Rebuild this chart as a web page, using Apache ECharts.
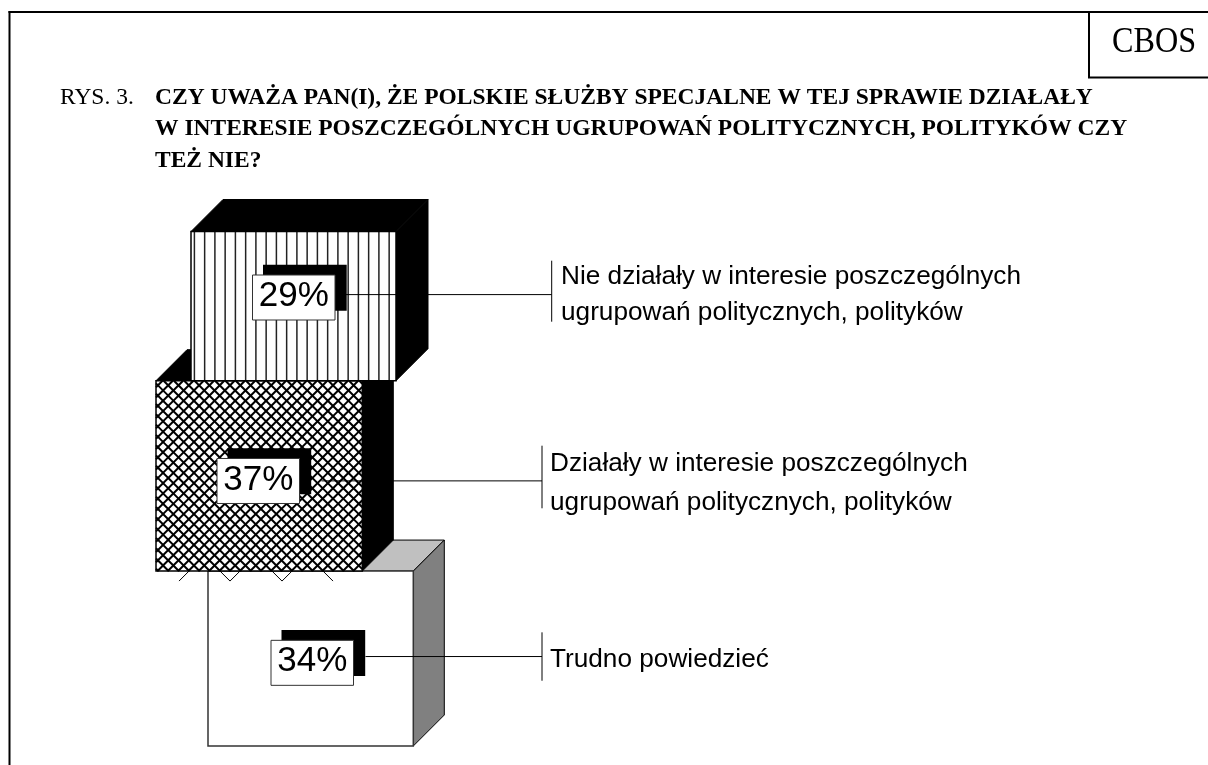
<!DOCTYPE html>
<html>
<head>
<meta charset="utf-8">
<style>html,body{margin:0;padding:0;background:#fff}#chart{width:1208px;height:765px}</style>
<script src="https://cdn.jsdelivr.net/npm/echarts@6/dist/echarts.min.js"></script>
</head>
<body>
<div id="chart"></div>
<script>
// ---- data, bottom of the stack first ----
const categories = [
  ['Trudno powiedzieć'],
  ['Działały w interesie poszczególnych', 'ugrupowań politycznych, polityków'],
  ['Nie działały w interesie poszczególnych', 'ugrupowań politycznych, polityków']
];
const values = [34, 37, 29];
const figureLabel = 'RYS. 3.';
const questionLines = [
  'CZY UWAŻA PAN(I), ŻE POLSKIE SŁUŻBY SPECJALNE W TEJ SPRAWIE DZIAŁAŁY',
  'W INTERESIE POSZCZEGÓLNYCH UGRUPOWAŃ POLITYCZNYCH, POLITYKÓW CZY',
  'TEŻ NIE?'
];
const sourceLabel = 'CBOS';

// ---- layout (x axis runs in page pixels, y axis in percent) ----
const layout = [
  {left: 208, width: 205.3, depth: 31, fill: 'plain',   topFill: '#c0c0c0', sideFill: '#808080',
   boxLeft: 271, labelDy: -2, boxDy: 6.3, leaderGap: 1, stemX: 542, stemUp: 24.2, stemDown: 24.2, textX: 550, lineDy: [2.4]},
  {left: 156, width: 206.3, depth: 31, fill: 'hatch',   topFill: '#000', sideFill: '#000',
   boxLeft: 217, labelDy: 5, boxDy: 0.1, leaderGap: 11, stemX: 542, stemUp: 35.2, stemDown: 27.4, textX: 550, lineDy: [-17.7, 20.7]},
  {left: 191, width: 205, depth: 32, fill: 'stripes', topFill: '#000', sideFill: '#000',
   boxLeft: 252.5, labelDy: -11.5, boxDy: 2.9, leaderGap: 0, stemX: 551.7, stemUp: 33.9, stemDown: 27.1, textX: 561, lineDy: [-18.6, 16.8]}
];
const SANS = '"Liberation Sans", Arial, sans-serif';
const SERIF = '"Liberation Serif", "Times New Roman", serif';
const INK = '#000';

function seg(x1, y1, x2, y2, width, color) {
  return {type: 'line', silent: true,
    shape: {x1, y1, x2, y2},
    style: {stroke: color || INK, lineWidth: width || 1}};
}
function poly(points, fill, stroke) {
  return {type: 'polygon', silent: true, shape: {points},
    style: {fill, stroke: stroke || INK, lineWidth: 1}};
}

// hatch lines of slope +1 / -1, clipped to the front face
function hatchLines(l, t, r, b) {
  const out = [], period = 10.3, w = 2;
  for (let c = -351 - period * 60; c < -351 + period * 60; c += period) {
    const x1 = Math.max(l, t + c), x2 = Math.min(r, b + c);
    if (x2 > x1) out.push(seg(x1, x1 - c, x2, x2 - c, w));
  }
  for (let c = 811 - period * 60; c < 811 + period * 60; c += period) {
    const x1 = Math.max(l, c - b), x2 = Math.min(r, c - t);
    if (x2 > x1) out.push(seg(x1, c - x1, x2, c - x2, w));
  }
  // fringe that spills below the face
  [[179, 189, -1], [220, 230, 1], [230, 240, -1], [272, 282, 1], [282, 292, -1], [323, 333, 1]].forEach(f => {
    const y0 = b, y1 = b + 10;
    if (f[2] === 1) out.push(seg(f[0], y0, f[1], y1, 1));
    else out.push(seg(f[0], y1, f[1], y0, 1));
  });
  return out;
}
function stripeLines(l, t, r, b) {
  const out = [];
  for (let x = l + 3.4; x < r - 3; x += 10.25) out.push(seg(x, t, x, b, 1.5, '#222'));
  return out;
}

function renderBlock(params, api) {
  const i = params.dataIndex, cfg = layout[i];
  const bottom = api.coord([0, api.value(0)])[1];
  const top = api.coord([0, api.value(1)])[1];
  const l = api.coord([cfg.left, 0])[0];
  const r = api.coord([cfg.left + cfg.width, 0])[0];
  const d = cfg.depth, kids = [];

  kids.push(poly([[l, top], [l + d, top - d], [r + d, top - d], [r, top]], cfg.topFill));
  kids.push(poly([[r, top], [r + d, top - d], [r + d, bottom - d], [r, bottom]], cfg.sideFill));
  kids.push({type: 'rect', silent: true, shape: {x: l, y: top, width: r - l, height: bottom - top},
    style: {fill: '#fff', stroke: 'none'}});
  if (cfg.fill === 'hatch') kids.push(...hatchLines(l, top, r, bottom));
  if (cfg.fill === 'stripes') kids.push(...stripeLines(l, top, r, bottom));
  kids.push({type: 'rect', silent: true, shape: {x: l, y: top, width: r - l, height: bottom - top},
    style: {fill: 'none', stroke: cfg.fill === 'plain' ? '#333' : INK, lineWidth: 1.5}});

  const cy = (top + bottom) / 2 + cfg.labelDy;
  const boxW = 82.5, boxH = 45;
  const bx = cfg.boxLeft, by = cy + cfg.boxDy - boxH / 2;
  // leader and stem
  kids.push(seg(bx + boxW + cfg.leaderGap + 11, cy, cfg.stemX, cy, 1));
  kids.push(seg(cfg.stemX, cy - cfg.stemUp, cfg.stemX, cy + cfg.stemDown, 1));
  // shadow, box, value
  kids.push({type: 'rect', silent: true, shape: {x: bx + 10.5, y: by - 10.3, width: boxW + 1.2, height: boxH + 1},
    style: {fill: '#000', stroke: 'none'}});
  kids.push({type: 'rect', silent: true, shape: {x: bx, y: by, width: boxW, height: boxH},
    style: {fill: '#fff', stroke: '#333', lineWidth: 1}});
  kids.push({type: 'text', silent: true, style: {
    text: values[i] + '%', x: bx + boxW / 2, y: by + boxH / 2 - 1, align: 'center', verticalAlign: 'middle',
    font: '35px ' + SANS, fill: '#000'}});
  // category text
  categories[i].forEach((line, k) => kids.push({type: 'text', silent: true, style: {
    text: line, x: cfg.textX, y: cy + cfg.lineDy[k] + 1, align: 'left', verticalAlign: 'middle',
    font: '26.2px ' + SANS, fill: '#000'}}));
  return {type: 'group', children: kids};
}

// cumulative start / end of every block
let running = 0;
const stackData = values.map(v => { const s = running; running += v; return [s, running]; });

const titleGraphics = [
  {type: 'text', silent: true, style: {text: figureLabel, x: 60, y: 97.5, verticalAlign: 'middle', font: '23.5px ' + SERIF, fill: '#000'}}
].concat(questionLines.map((t, k) => ({type: 'text', silent: true, style: {
  text: t, x: 155, y: 97.5 + k * 31.7, verticalAlign: 'middle', font: 'bold 23.5px ' + SERIF, fill: '#000'}})));

const chart = echarts.init(document.getElementById('chart'), null, {renderer: 'canvas'});
chart.setOption({
  animation: false,
  backgroundColor: '#fff',
  grid: {left: 0, right: 0, top: 231.5, bottom: 19},
  xAxis: {type: 'value', min: 0, max: 1208, show: false},
  yAxis: {type: 'value', min: 0, max: 100, show: false},
  graphic: [
    {type: 'line', silent: true, shape: {x1: 8.5, y1: 12, x2: 1208, y2: 12}, style: {stroke: '#000', lineWidth: 2}},
    {type: 'line', silent: true, shape: {x1: 9.5, y1: 11, x2: 9.5, y2: 765}, style: {stroke: '#000', lineWidth: 2}},
    {type: 'line', silent: true, shape: {x1: 1089, y1: 12, x2: 1089, y2: 78}, style: {stroke: '#000', lineWidth: 2}},
    {type: 'line', silent: true, shape: {x1: 1088, y1: 77.5, x2: 1208, y2: 77.5}, style: {stroke: '#000', lineWidth: 2}},
    {type: 'text', silent: true, x: 1154, y: 42.5, scaleX: 0.92,
      style: {text: sourceLabel, x: 0, y: 0, align: 'center', verticalAlign: 'middle', font: '35px ' + SERIF, fill: '#000'}}
  ].concat(titleGraphics),
  series: [{
    type: 'custom',
    coordinateSystem: 'cartesian2d',
    clip: false,
    renderItem: renderBlock,
    encode: {y: [0, 1]},
    data: stackData
  }]
});
</script>
</body>
</html>
